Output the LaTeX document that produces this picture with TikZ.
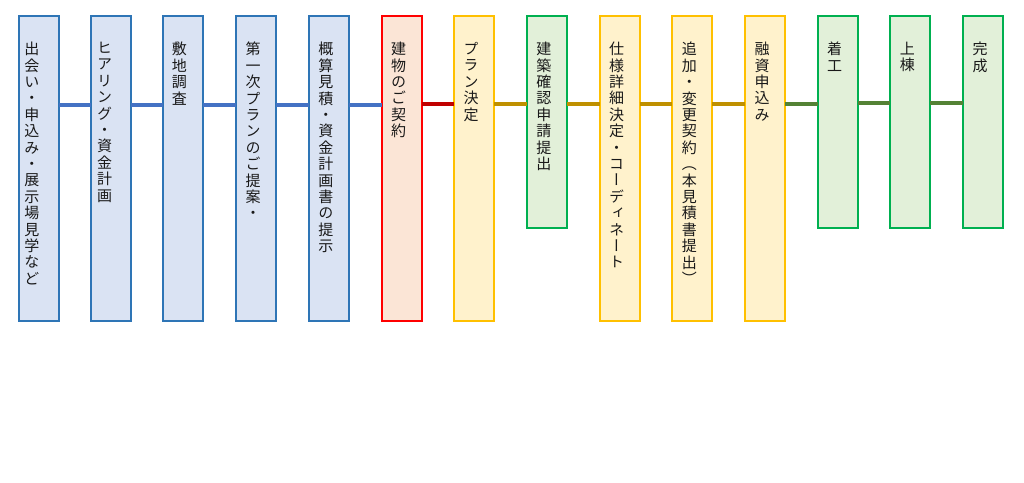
\documentclass[tikz,border=0pt]{standalone}
\usepackage{fontspec}
\newfontfamily\jpfont[RawFeature=+vert]{Noto Sans CJK JP}
\usetikzlibrary{positioning}
\definecolor{flowBlue}{HTML}{2E75B6}
\definecolor{flowBlueFill}{HTML}{DAE3F3}
\definecolor{flowBlueLine}{HTML}{4472C4}
\definecolor{flowRed}{HTML}{FF0000}
\definecolor{flowRedFill}{HTML}{FBE5D6}
\definecolor{flowRedLine}{HTML}{C00000}
\definecolor{flowGold}{HTML}{FFC000}
\definecolor{flowGoldFill}{HTML}{FFF2CC}
\definecolor{flowGoldLine}{HTML}{BF9000}
\definecolor{flowGreen}{HTML}{00B050}
\definecolor{flowGreenFill}{HTML}{E2F0D9}
\definecolor{flowGreenLine}{HTML}{548235}
\makeatletter
\newcommand\tate[1]{\@tfor\tate@c:=#1\do{\tate@c\par}}
\makeatother

\begin{document}
\begin{tikzpicture}[x=1pt,y=1pt,
    stagebox/.style={draw,line width=2pt,outer sep=0pt,anchor=north,
                     minimum width=40pt,minimum height=305pt},
    shortbox/.style={stagebox,minimum height=212pt},
    bluebox/.style={draw=flowBlue,fill=flowBlueFill},
    redbox/.style={draw=flowRed,fill=flowRedFill},
    goldbox/.style={draw=flowGold,fill=flowGoldFill},
    greenbox/.style={draw=flowGreen,fill=flowGreenFill},
    tatelbl/.style={inner sep=0pt,text width=18pt,align=center,text=black!90,
                    font=\jpfont\fontsize{15pt}{16.4pt}\selectfont},
    link/.style={line width=4pt},
    bline/.style={link,draw=flowBlueLine},
    rline/.style={link,draw=flowRedLine},
    gline/.style={link,draw=flowGoldLine},
    eline/.style={link,draw=flowGreenLine}]
  \useasboundingbox (0,0) rectangle (1024,-482);

  % stages
  \node[stagebox,bluebox]  (b1)  at (39,-16) {};
  \node[stagebox,bluebox]  (b2)  at (110.7,-16) {};
  \node[stagebox,bluebox]  (b3)  at (183.4,-16) {};
  \node[stagebox,bluebox]  (b4)  at (256.1,-16) {};
  \node[stagebox,bluebox]  (b5)  at (328.8,-16) {};
  \node[stagebox,redbox]   (b6)  at (401.5,-16) {};
  \node[stagebox,goldbox]  (b7)  at (474.2,-16) {};
  \node[shortbox,greenbox] (b8)  at (546.9,-16) {};
  \node[stagebox,goldbox]  (b9)  at (619.6,-16) {};
  \node[stagebox,goldbox]  (b10) at (692.3,-16) {};
  \node[stagebox,goldbox]  (b11) at (765,-16) {};
  \node[shortbox,greenbox] (b12) at (837.7,-16) {};
  \node[shortbox,greenbox] (b13) at (910.4,-16) {};
  \node[shortbox,greenbox] (b14) at (983.1,-16) {};

  % vertical labels
  \node[tatelbl,below=26pt of b1.north,xshift=-7pt]  (t1)  {\tate{出会い・申込み・展示場見学など}};
  \node[tatelbl,below=26pt of b2.north,xshift=-6pt]  (t2)  {\tate{ヒアリング・資金計画}};
  \node[tatelbl,below=26pt of b3.north,xshift=-4pt]  (t3)  {\tate{敷地調査}};
  \node[tatelbl,below=26pt of b4.north,xshift=-3pt]  (t4)  {\tate{第一次プランのご提案・}};
  \node[tatelbl,below=26pt of b5.north,xshift=-3pt]  (t5)  {\tate{概算見積・資金計画書の提示}};
  \node[tatelbl,below=26pt of b6.north,xshift=-3pt]  (t6)  {\tate{建物のご契約}};
  \node[tatelbl,below=26pt of b7.north,xshift=-3pt]  (t7)  {\tate{プラン決定}};
  \node[tatelbl,below=26pt of b8.north,xshift=-3pt]  (t8)  {\tate{建築確認申請提出}};
  \node[tatelbl,below=26pt of b9.north,xshift=-3pt]  (t9)  {\tate{仕様詳細決定・コーディネート}};
  \node[tatelbl,below=26pt of b10.north,xshift=-3pt] (t10) {\tate{追加・変更契約（本見積書提出）}};
  \node[tatelbl,below=26pt of b11.north,xshift=-3pt] (t11) {\tate{融資申込み}};
  \node[tatelbl,below=26pt of b12.north,xshift=-3pt] (t12) {\tate{着工}};
  \node[tatelbl,below=26pt of b13.north,xshift=-3pt] (t13) {\tate{上棟}};
  \node[tatelbl,below=26pt of b14.north,xshift=-3pt] (t14) {\tate{完成}};

  % connectors
  \draw[bline] ([yshift=-89pt]b1.north east) -- ([yshift=-89pt]b2.north west);
  \draw[bline] ([yshift=-89pt]b2.north east) -- ([yshift=-89pt]b3.north west);
  \draw[bline] ([yshift=-89pt]b3.north east) -- ([yshift=-89pt]b4.north west);
  \draw[bline] ([yshift=-89pt]b4.north east) -- ([yshift=-89pt]b5.north west);
  \draw[bline] ([yshift=-89pt]b5.north east) -- ([yshift=-89pt]b6.north west);
  \draw[rline] ([yshift=-88pt]b6.north east) -- ([yshift=-88pt]b7.north west);
  \draw[gline] ([yshift=-88pt]b7.north east) -- ([yshift=-88pt]b8.north west);
  \draw[gline] ([yshift=-88pt]b8.north east) -- ([yshift=-88pt]b9.north west);
  \draw[gline] ([yshift=-88pt]b9.north east) -- ([yshift=-88pt]b10.north west);
  \draw[gline] ([yshift=-88pt]b10.north east) -- ([yshift=-88pt]b11.north west);
  \draw[eline] ([yshift=-88pt]b11.north east) -- ([yshift=-88pt]b12.north west);
  \draw[eline] ([yshift=-87pt]b12.north east) -- ([yshift=-87pt]b13.north west);
  \draw[eline] ([yshift=-87pt]b13.north east) -- ([yshift=-87pt]b14.north west);
\end{tikzpicture}
\end{document}
